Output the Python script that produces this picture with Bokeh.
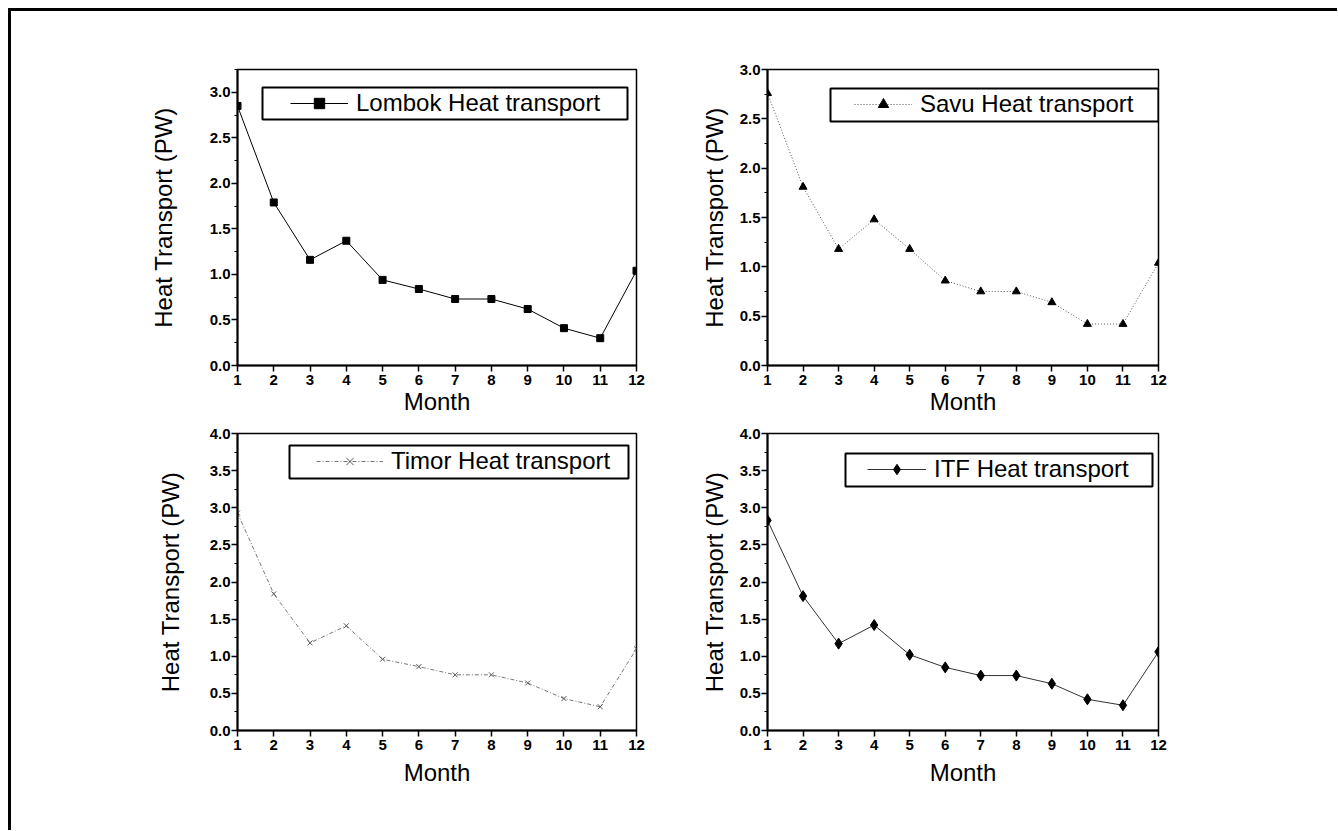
import numpy as np
from bokeh.plotting import figure
from bokeh.layouts import column, row
from bokeh.models import (Range1d, FixedTicker, NumeralTickFormatter, Legend,
                          LegendItem, BoxAnnotation)
from bokeh.embed import file_html
from bokeh.resources import INLINE

months = [1, 2, 3, 4, 5, 6, 7, 8, 9, 10, 11, 12]
lombok = [2.85, 1.79, 1.16, 1.37, 0.94, 0.84, 0.73, 0.73, 0.62, 0.41, 0.30, 1.04]
savu = [2.76, 1.81, 1.18, 1.48, 1.18, 0.86, 0.75, 0.75, 0.64, 0.42, 0.42, 1.04]
timor = [2.93, 1.84, 1.18, 1.41, 0.96, 0.86, 0.75, 0.75, 0.64, 0.43, 0.32, 1.10]
itf = [2.83, 1.81, 1.17, 1.42, 1.02, 0.85, 0.74, 0.74, 0.63, 0.42, 0.34, 1.06]

FONT = "Liberation Sans"


def panel(y, ymax, label, marker, msize, lcolor, mcolor, ldash, lwidth,
          width, height, mb, leg_loc, glyph_w, box, ylab_standoff, xlab_standoff):
    p = figure(width=width, height=height,
               x_range=Range1d(1, 12), y_range=Range1d(0, ymax),
               output_backend="svg", toolbar_location=None,
               min_border_left=mb[0], min_border_right=mb[1],
               min_border_top=mb[2], min_border_bottom=mb[3])
    p.xgrid.visible = False
    p.ygrid.visible = False
    p.outline_line_color = "black"
    p.outline_line_width = 1.5
    p.outline_line_alpha = 1
    p.background_fill_color = "white"
    p.border_fill_color = "white"

    ln = p.line(months, y, line_color=lcolor, line_width=lwidth, line_dash=ldash)
    sc = p.scatter(months, y, marker=marker, size=msize, fill_color=mcolor,
                   line_color=mcolor, line_width=1)

    p.xaxis.ticker = FixedTicker(ticks=months)
    major = list(np.arange(0, ymax + 0.001, 0.5))
    minor = list(np.arange(0.25, ymax + 0.001, 0.5))
    p.yaxis.ticker = FixedTicker(ticks=major, minor_ticks=minor)
    p.yaxis.formatter = NumeralTickFormatter(format="0.0")

    for ax in (p.xaxis[0], p.yaxis[0]):
        ax.axis_line_width = 2
        ax.axis_line_color = "black"
        ax.major_tick_line_color = "black"
        ax.major_tick_line_width = 1.5
        ax.major_tick_out = 6
        ax.major_tick_in = 0
        ax.minor_tick_out = 3
        ax.minor_tick_in = 0
        ax.minor_tick_line_color = "black"
        ax.major_label_text_font = FONT
        ax.major_label_text_font_size = "15px"
        ax.major_label_text_font_style = "bold"
        ax.major_label_text_color = "black"
        ax.axis_label_text_font = FONT
        ax.axis_label_text_font_size = "24px"
        ax.axis_label_text_font_style = "normal"
        ax.axis_label_text_color = "black"
    p.xaxis.minor_tick_line_color = None
    p.xaxis.major_label_standoff = 3
    p.yaxis.major_label_standoff = 1
    p.xaxis.axis_label = "Month"
    p.yaxis.axis_label = "Heat Transport (PW)"
    p.yaxis.axis_label_standoff = ylab_standoff
    p.xaxis.axis_label_standoff = xlab_standoff

    p.add_layout(BoxAnnotation(left=box[0], right=box[1], bottom=box[2], top=box[3],
                               left_units="screen", right_units="screen",
                               bottom_units="screen", top_units="screen",
                               fill_color=None, fill_alpha=0,
                               line_color="black", line_width=2, line_alpha=1))
    leg = Legend(items=[LegendItem(label=label, renderers=[ln, sc])],
                 location=leg_loc, padding=3, spacing=0, margin=0,
                 glyph_width=glyph_w, glyph_height=26, label_height=26,
                 label_standoff=8, label_text_font=FONT,
                 label_text_font_size="24px", label_text_color="black",
                 background_fill_alpha=0, border_line_alpha=0)
    p.add_layout(leg)
    return p


LW, RW = 686, 640
TH, BH = 412, 407

p1 = panel(lombok, 3.25, "Lombok Heat transport", "square", 7, "black", "black",
           "solid", 1, LW, TH, (226, 61, 58, 58), (50, 245), 58,
           (25, 390, 246, 278), 30, 0)
p2 = panel(savu, 3.0, "Savu Heat transport", "triangle", 8, "#555555", "black",
           "1 2", 1, RW, TH, (66, 179, 58, 58), (84, 244), 58,
           (63, 391, 244, 277), 9, 0)
p3 = panel(timor, 4.0, "Timor Heat transport", "x", 7, "#777777", "#555555",
           "4 2 1 2", 1, LW, BH, (226, 61, 10, 100), (76, 252), 67,
           (52, 391, 252, 285), 23, 6)
p4 = panel(itf, 4.0, "ITF Heat transport", "diamond", 11, "#333333", "black",
           "solid", 1, RW, BH, (66, 179, 10, 100), (97, 244), 59,
           (78, 385, 244, 277), 9, 6)

layout = column(row(p1, p2), row(p3, p4),
                styles={"margin-left": "8px", "margin-top": "8px",
                        "border-top": "3px solid black",
                        "border-left": "3px solid black"})

open("out.html", "w").write(file_html(layout, INLINE))
